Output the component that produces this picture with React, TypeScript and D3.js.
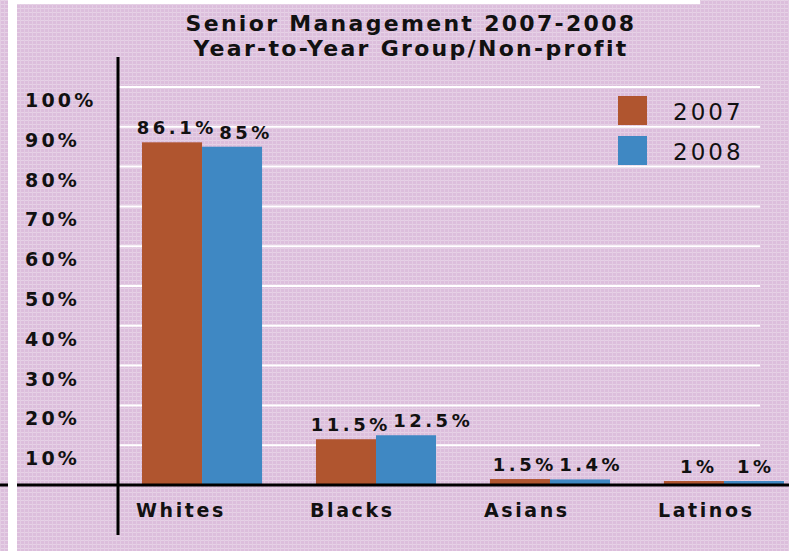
import React from "react";
import * as d3 from "d3";

const categories = ["Whites", "Blacks", "Asians", "Latinos"];
const years = ["2007", "2008"];
const values2007 = [86.1, 11.5, 1.5, 1];
const values2008 = [85, 12.5, 1.4, 1];
const labels2007 = ["86.1%", "11.5%", "1.5%", "1%"];
const labels2008 = ["85%", "12.5%", "1.4%", "1%"];
const yTicks = [10, 20, 30, 40, 50, 60, 70, 80, 90, 100];
const titleLines = ["Senior Management 2007-2008", "Year-to-Year Group/Non-profit"];

const W = 789;
const H = 551;
const colors: Record<string, string> = { "2007": "#b0552f", "2008": "#3f88c3" };
const BG = "#dcbedc";
const FONT = "'DejaVu Sans', Verdana, sans-serif";

let ctx: CanvasRenderingContext2D | null = null;
function textWidth(s: string, size: number, weight: string, ls: number) {
  if (!ctx) ctx = document.createElement("canvas").getContext("2d");
  if (!ctx) return s.length * size * 0.7;
  ctx.font = `${weight} ${size}px 'DejaVu Sans'`;
  return ctx.measureText(s).width + ls * (s.length - 1);
}

export default function App() {
  const axisX = 118;
  const baseY = 485;
  const y = d3.scaleLinear().domain([0, 100]).range([baseY, 87]);
  const x = d3
    .scaleBand<string>()
    .domain(categories)
    .range([118, 808])
    .paddingInner(0.31)
    .paddingOuter(0.138);
  const xi = d3.scaleBand<string>().domain(years).range([0, x.bandwidth()]).padding(0);

  const VS = 18;
  const VLS = 3.5;

  // value label positions with simple collision avoidance (2008 pushed right)
  const valueLabels: { key: string; x: number; y: number; text: string }[] = [];
  categories.forEach((c, i) => {
    const bw = xi.bandwidth();
    const c1 = (x(c) as number) + (xi("2007") as number) + bw / 2;
    const c2 = (x(c) as number) + (xi("2008") as number) + bw / 2;
    const w1 = textWidth(labels2007[i], VS, "bold", VLS);
    const w2 = textWidth(labels2008[i], VS, "bold", VLS);
    const l1 = c1 - w1 / 2 + 3;
    const l2 = Math.max(c2 - w2 / 2, l1 + w1 + 6);
    valueLabels.push({ key: "a" + c, x: l1, y: y(values2007[i]) - 8, text: labels2007[i] });
    valueLabels.push({ key: "b" + c, x: l2, y: y(values2008[i]) - 8, text: labels2008[i] });
  });

  return (
    <svg
      width={W}
      height={H}
      style={{ position: "absolute", left: 0, top: 0, display: "block" }}
      fontFamily={FONT}
    >
      <defs>
        <pattern id="dither" width="4" height="4" patternUnits="userSpaceOnUse">
          <rect width="4" height="4" fill={BG} />
          <rect width="4" height="1" fill="#e6d2e6" />
          <rect width="1" height="4" fill="#e3cce3" />
        </pattern>
      </defs>
      <rect x={0} y={0} width={W} height={H} fill="url(#dither)" />
      <rect x={16} y={0} width={684} height={4} fill="#ffffff" />

      {/* gridlines */}
      {yTicks.map((t) => (
        <line
          key={"g" + t}
          x1={axisX}
          x2={760}
          y1={y(t)}
          y2={y(t)}
          stroke="#ffffff"
          strokeWidth={2}
        />
      ))}

      {/* y labels */}
      {yTicks.map((t) => (
        <text
          key={"yl" + t}
          x={25}
          y={y(t) + 20}
          fontSize={19}
          fontWeight="bold"
          letterSpacing={3.2}
          fill="#111"
        >
          {t + "%"}
        </text>
      ))}

      {/* bars */}
      {years.map((yr, si) =>
        categories.map((c, i) => {
          const v = si === 0 ? values2007[i] : values2008[i];
          return (
            <rect
              key={yr + c}
              x={(x(c) as number) + (xi(yr) as number)}
              y={y(v)}
              width={xi.bandwidth()}
              height={baseY - y(v)}
              fill={colors[yr]}
            />
          );
        })
      )}

      {/* value labels */}
      {valueLabels.map((l) => (
        <text
          key={l.key}
          x={l.x}
          y={l.y}
          fontSize={VS}
          fontWeight="bold"
          letterSpacing={VLS}
          fill="#111"
        >
          {l.text}
        </text>
      ))}

      {/* axes */}
      <line x1={0} x2={W} y1={baseY} y2={baseY} stroke="#000" strokeWidth={3} />
      <line x1={axisX} x2={axisX} y1={57} y2={535} stroke="#000" strokeWidth={3} />
      <rect x={8} y={0} width={9} height={H} fill="#ffffff" />

      {/* category labels */}
      {categories.map((c) => (
        <text
          key={"c" + c}
          x={(x(c) as number) - 6}
          y={517}
          fontSize={19}
          fontWeight="bold"
          letterSpacing={2.6}
          fill="#111"
        >
          {c}
        </text>
      ))}

      {/* title */}
      {titleLines.map((t, i) => (
        <text
          key={"t" + i}
          x={411}
          y={31 + i * 25}
          textAnchor="middle"
          fontSize={22}
          fontWeight="bold"
          letterSpacing={2.3}
          fill="#111"
        >
          {t}
        </text>
      ))}

      {/* legend */}
      {years.map((yr, i) => (
        <g key={"lg" + yr} transform={`translate(618, ${96 + i * 40})`}>
          <rect width={29} height={29} fill={colors[yr]} />
          <text x={55} y={24} fontSize={23} letterSpacing={3} fill="#111">
            {yr}
          </text>
        </g>
      ))}
    </svg>
  );
}
